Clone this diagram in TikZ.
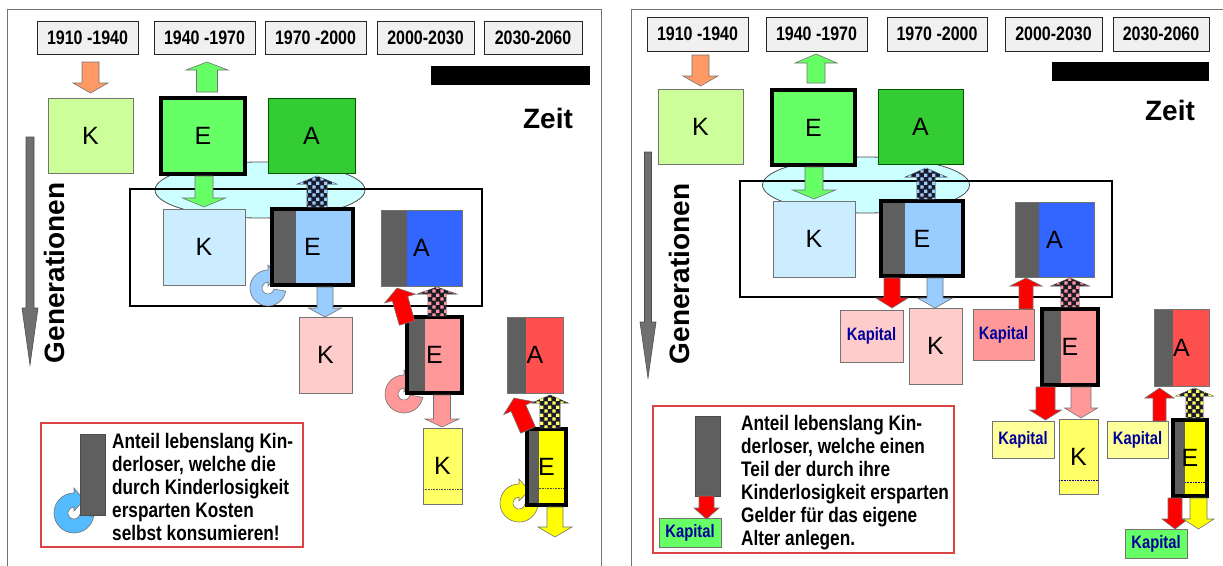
\documentclass[tikz,border=0pt]{standalone}
\usepackage{fontspec}
\setmainfont{Liberation Sans}
\setsansfont{Liberation Sans}
\newfontfamily\nb{Liberation Sans}[FakeStretch=0.82]
\usetikzlibrary{shapes.geometric,patterns}
\definecolor{yearfill}{HTML}{F0F0F0}
\definecolor{orangeA}{HTML}{FF9966}
\definecolor{kgreen}{HTML}{CCFF99}
\definecolor{egreen}{HTML}{66FF66}
\definecolor{agreen}{HTML}{33CC33}
\definecolor{ellfill}{HTML}{CCFFFF}
\definecolor{kblue}{HTML}{CCECFF}
\definecolor{eblue}{HTML}{99CCFF}
\definecolor{ablue}{HTML}{3366FF}
\definecolor{kpink}{HTML}{FFCCCC}
\definecolor{epink}{HTML}{FF9999}
\definecolor{ared}{HTML}{FF5050}
\definecolor{kyellow}{HTML}{FFFF66}
\definecolor{eyellow}{HTML}{FFFF00}
\definecolor{kapyellow}{HTML}{FFFF99}
\definecolor{stripgray}{HTML}{5F5F5F}
\definecolor{kapblue}{HTML}{000099}
\definecolor{legred}{HTML}{DD4444}
\definecolor{ringblue}{HTML}{55BBFF}
\definecolor{arrowgray}{HTML}{707070}
\definecolor{chkdark}{HTML}{1A1A2A}
\pgfdeclarepatternformonly{chk}{\pgfpointorigin}{\pgfqpoint{8pt}{8pt}}{\pgfqpoint{8pt}{8pt}}{%
  \pgfpathrectangle{\pgfqpoint{0.5pt}{0.5pt}}{\pgfqpoint{3.5pt}{3.5pt}}%
  \pgfpathrectangle{\pgfqpoint{4.5pt}{4.5pt}}{\pgfqpoint{3.5pt}{3.5pt}}%
  \pgfusepath{fill}}
% box node: name, x1, y1, x2, y2, style, text
\newcommand{\bx}[7]{\node[anchor=north west, inner sep=0pt, outer sep=0pt,
  minimum width={(#4)-(#2)}, minimum height={(#5)-(#3)}, #6] (#1) at (#2,#3) {#7};}
% block arrow: style, base x,y, tip x,y, shaft half width, head half width, head length
\newcommand{\barrow}[8]{%
  \pgfmathsetmacro\baang{atan2((#3)-(#5),(#4)-(#2))}%
  \pgfmathsetmacro\balen{veclen((#4)-(#2),(#5)-(#3))}%
  \begin{scope}[shift={(#2,#3)},rotate=\baang]
    \path[#1] (0,-#6) -- ({\balen-#8},-#6) -- ({\balen-#8},-#7) -- (\balen,0)
      -- ({\balen-#8},#7) -- ({\balen-#8},#6) -- (0,#6) -- cycle;
  \end{scope}}
% circular arrow: colour, centre x,y, outer radius
\newcommand{\ring}[4]{%
  \begin{scope}[shift={(#2,#3)}, y=1pt]
    \path[fill=#1, draw=black!55, line width=0.6] (0,#4) arc[start angle=90, end angle=350, radius=#4]
      -- (350:6) arc[start angle=350, end angle=90, radius=6] -- (0,2)
      -- (10,{(#4+6)/2}) -- (0,{#4+5}) -- cycle;
  \end{scope}}
\tikzset{
  year/.style={draw=black!85, fill=yearfill, line width=1, font=\nb\bfseries\fontsize{19.5}{20}\selectfont},
  thinbox/.style={draw=black!55, line width=0.8, font=\fontsize{25}{25}\selectfont},
  thickbox/.style={draw=black, line width=4, font=\fontsize{25}{25}\selectfont},
  strip/.style={path picture={\fill[stripgray] (path picture bounding box.north west) rectangle ([xshift=#1]path picture bounding box.south west);}},
  kap/.style={draw=black!55, line width=0.8, text=kapblue, font=\nb\bfseries\fontsize{18}{18}\selectfont},
  blk/.style={fill=#1, draw=black!55, line width=0.6},
  chkarrow/.style={fill=chkdark, draw=black!70, line width=0.6, postaction={pattern=chk, pattern color=#1}},
  legend/.style={draw=legred, line width=1.2},
  legtext/.style={anchor=north west, align=left, inner sep=0pt, font=\nb\bfseries\fontsize{21}{23}\selectfont},
  gen/.style={rotate=90, font=\bfseries\fontsize{28}{28}\selectfont},
  zeit/.style={font=\bfseries\fontsize{28}{28}\selectfont},
  frame/.style={draw=black!55, line width=1},
}
\begin{document}
\begin{tikzpicture}[x=1pt,y=-1pt]
\useasboundingbox (0,0) rectangle (1223,565);
% ================= LEFT PANEL =================
\draw[frame] (7,570) -- (7,9) -- (601,9) -- (601,570);
\bx{yl1}{37}{21}{138}{54}{year}{1910 -1940}
\bx{yl2}{154}{21}{255}{54}{year}{1940 -1970}
\bx{yl3}{265}{21}{366}{54}{year}{1970 -2000}
\bx{yl4}{377}{21}{474}{54}{year}{2000-2030}
\bx{yl5}{484}{21}{582}{54}{year}{2030-2060}
\fill (431,66) rectangle (590,85);
\node[zeit] (zl) at (548,118) {Zeit};
\barrow{blk=arrowgray, draw=black!70}{30}{137}{30}{365}{4}{8}{57}
\node[gen] (gl) at (54,273) {Generationen};
\node[ellipse, draw=black!70, line width=0.8, fill=ellfill, minimum width=210, minimum height=56, inner sep=0pt] (ell1) at (260,190) {};
\bx{grp1}{130}{189}{482}{306}{draw=black, line width=2}{}
\ring{eblue}{268}{288}{18}
\ring{epink}{404}{394}{19}
\ring{eyellow}{519}{503}{19}
\bx{kl1}{48}{98}{133}{173}{thinbox, fill=kgreen}{K}
\bx{el1}{161}{98}{245}{174}{thickbox, fill=egreen}{E}
\bx{al1}{268}{98}{355}{173}{thinbox, fill=agreen, draw=green!35!black}{A}
\bx{kl2}{163}{209}{245}{285}{thinbox, fill=kblue}{K}
\bx{el2}{272}{209}{353}{285}{thickbox, fill=eblue, strip=24}{E}
\bx{al2}{381}{210}{462}{286}{thinbox, fill=ablue, strip=26}{A}
\bx{kl3}{299}{317}{352}{393}{thinbox, fill=kpink}{K}
\bx{el3}{407}{317}{462}{393}{thickbox, fill=epink, strip=18}{E}
\bx{al3}{507}{317}{563}{393}{thinbox, fill=ared, strip=19}{A}
\bx{kl4}{423}{428}{462}{504}{thinbox, fill=kyellow}{K}
\draw[densely dotted, black!70, line width=0.6] (423,489) -- (462,489);
\bx{el4}{527}{429}{566}{505}{thickbox, fill=eyellow, strip=12}{E}
\draw[densely dotted, black!70, line width=0.6] (537,488) -- (564,488);
\barrow{blk=orangeA}{90.5}{62}{90.5}{93}{8.5}{17.5}{10}
\barrow{blk=egreen}{207}{92}{207}{62}{10.5}{21}{8}
\barrow{blk=egreen}{204}{176}{204}{207}{9}{21.5}{9}
\barrow{chkarrow=eblue}{317}{207}{317}{176}{10}{19.5}{8}
\barrow{blk=eblue}{325}{287}{325}{317}{8}{16.5}{9}
\barrow{blk=red}{407}{323}{397}{288}{8}{16}{11}
\barrow{chkarrow=epink}{437}{316}{437}{287}{9}{19.5}{7}
\barrow{blk=epink}{442}{395}{442}{427}{8.5}{17}{8}
\barrow{blk=red}{528}{430}{514}{398}{8}{16}{11}
\barrow{chkarrow=kyellow}{550}{428}{550}{395}{10}{18}{8}
\barrow{blk=eyellow}{555}{507}{555}{537}{8}{17}{10}
% legend left
\bx{legl}{41}{423}{303}{547}{legend}{}
\ring{ringblue}{74}{513}{20}
\bx{barl}{80}{434}{105}{515}{draw=black!70, line width=0.8, fill=stripgray}{}
\node[legtext] (tl) at (112,433) {Anteil lebenslang Kin-\\derloser, welche die\\durch Kinderlosigkeit\\ersparten Kosten\\selbst konsumieren!};
% ================= RIGHT PANEL =================
\draw[frame] (631,570) -- (631,9) -- (1230,9);
\bx{yr1}{647}{17}{748}{51}{year}{1910 -1940}
\bx{yr2}{766}{17}{867}{51}{year}{1940 -1970}
\bx{yr3}{887}{17}{987}{51}{year}{1970 -2000}
\bx{yr4}{1005}{17}{1102}{51}{year}{2000-2030}
\bx{yr5}{1113}{17}{1209}{51}{year}{2030-2060}
\fill (1052,62) rectangle (1209,81);
\node[zeit] (zr) at (1170,110) {Zeit};
\barrow{blk=arrowgray, draw=black!70}{648}{152}{648}{378}{3.5}{8}{56}
\node[gen] (gr) at (679,274) {Generationen};
\node[ellipse, draw=black!70, line width=0.8, fill=ellfill, minimum width=207, minimum height=56, inner sep=0pt] (ell2) at (866,185) {};
\bx{grp2}{740}{181}{1112}{297}{draw=black, line width=2}{}
\bx{kr1}{658}{89}{743}{164}{thinbox, fill=kgreen}{K}
\bx{er1}{772}{90}{855}{165}{thickbox, fill=egreen}{E}
\bx{ar1}{878}{89}{963}{164}{thinbox, fill=agreen, draw=green!35!black}{A}
\bx{kr2}{773}{201}{855}{277}{thinbox, fill=kblue}{K}
\bx{er2}{881}{201}{963}{276}{thickbox, fill=eblue, strip=24}{E}
\bx{ar2}{1015}{202}{1094}{277}{thinbox, fill=ablue, strip=24}{A}
\bx{kapr1}{840}{310}{903}{362}{kap, fill=kpink}{Kapital}
\bx{kr3}{909}{308}{962}{384}{thinbox, fill=kpink}{K}
\bx{kapr2}{973}{309}{1034}{360}{kap, fill=epink}{Kapital}
\bx{er3}{1042}{309}{1098}{385}{thickbox, fill=epink, strip=19}{E}
\bx{ar3}{1154}{309}{1209}{386}{thinbox, fill=ared, strip=19}{A}
\bx{kapr3}{992}{421}{1054}{458}{kap, fill=kapyellow}{Kapital}
\bx{kr4}{1059}{419}{1098}{494}{thinbox, fill=kyellow}{K}
\draw[densely dotted, kapblue, line width=0.6] (1059,480) -- (1098,480);
\bx{kapr4}{1107}{421}{1168}{458}{kap, fill=kapyellow}{Kapital}
\bx{er4}{1173}{420}{1207}{496}{thickbox, fill=eyellow, strip=12}{E}
\draw[densely dotted, kapblue, line width=0.6] (1185,482) -- (1205,482);
\bx{kapr5}{1125}{529}{1187}{558}{kap, fill=egreen}{Kapital}
\barrow{blk=orangeA}{700.5}{55}{700.5}{86}{8.5}{17.5}{10}
\barrow{blk=egreen}{816}{83}{816}{54}{9}{21}{9}
\barrow{blk=egreen}{814}{167}{814}{199}{9}{21.5}{9}
\barrow{chkarrow=eblue}{926}{199}{926}{168}{9}{20.5}{9}
\barrow{blk=red}{892}{278}{892}{308}{8}{16}{10}
\barrow{blk=eblue}{935}{278}{935}{308}{8}{17.5}{10}
\barrow{blk=red}{1026}{309}{1026}{278}{7}{16}{8}
\barrow{chkarrow=epink}{1070}{307}{1070}{278}{9}{19}{8}
\barrow{blk=red}{1045.5}{387}{1045.5}{420}{9.5}{16}{10}
\barrow{blk=epink}{1081}{387}{1081}{418}{10}{16.5}{10}
\barrow{blk=red}{1159.5}{421}{1159.5}{388}{6.5}{14.5}{10}
\barrow{chkarrow=kyellow}{1194.5}{418}{1194.5}{388}{8.5}{18.5}{8}
\barrow{blk=red}{1175}{498}{1175}{529}{7}{13}{10}
\barrow{blk=eyellow}{1198.5}{498}{1198.5}{529}{8.5}{15.5}{10}
% legend right
\bx{legr}{653}{406}{954}{553}{legend}{}
\bx{barr}{695}{416}{720}{496}{draw=black!70, line width=0.8, fill=stripgray}{}
\bx{kapleg}{659}{518}{721}{547}{kap, fill=egreen}{Kapital}
\barrow{blk=red}{706.5}{496}{706.5}{519}{7.5}{12.5}{11}
\node[legtext] (tr) at (741,415) {Anteil lebenslang Kin-\\derloser, welche einen\\Teil der durch ihre\\Kinderlosigkeit ersparten\\Gelder für das eigene\\Alter anlegen.};
\end{tikzpicture}
\end{document}
